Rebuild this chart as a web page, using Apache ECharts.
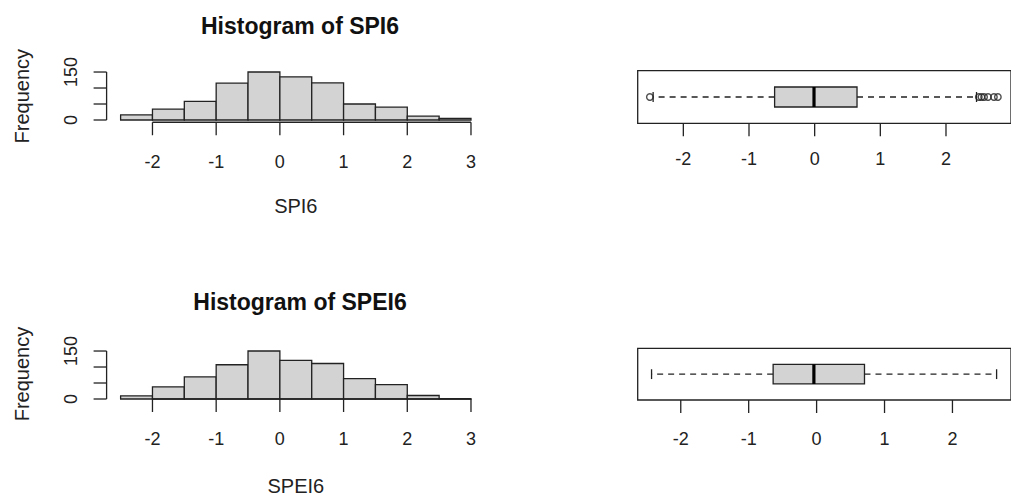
<!DOCTYPE html>
<html><head><meta charset="utf-8">
<script src="https://cdn.jsdelivr.net/npm/echarts@6/dist/echarts.min.js"></script>
<style>html,body{margin:0;padding:0;background:#fff}#c{width:1011px;height:499px}</style>
</head><body><div id="c"></div>
<script>
// ---- data ----
const binEdges = [-2.5, -2, -1.5, -1, -0.5, 0, 0.5, 1, 1.5, 2, 2.5, 3];
const spi6Counts = [16, 34, 58, 115, 150, 135, 116, 50, 40, 12, 5];
const spei6Counts = [10, 38, 69, 107, 150, 121, 111, 64, 45, 11, 1];
const histXTicks = [-2, -1, 0, 1, 2, 3];
const histYTicks = [0, 50, 100, 150];
const histYLabels = [0, 150];
const boxXTicks = [-2, -1, 0, 1, 2];
// lower whisker, Q1, median, Q3, upper whisker
const spi6Box = [-2.46, -0.61, -0.01, 0.645, 2.465];
const spi6Outliers = [-2.51, 2.50, 2.54, 2.58, 2.64, 2.73, 2.79];
const spei6Box = [-2.43, -0.64, -0.04, 0.705, 2.65];
const spei6Outliers = [];
const titles = ['Histogram of SPI6', 'Histogram of SPEI6'];
const varNames = ['SPI6', 'SPEI6'];

// ---- style ----
const FONT = 'Liberation Sans, Arial, sans-serif';
const INK = '#222';
const FILL = '#d3d3d3';
const LW = 1.3;
const BOX_HALF = 0.19;
const TICK_LEN = 13;

function histData(counts) {
  return counts.map((c, i) => [binEdges[i], binEdges[i + 1], c]);
}
function histRender(params, api) {
  const p0 = api.coord([api.value(0), api.value(2)]);
  const p1 = api.coord([api.value(1), 0]);
  return {
    type: 'rect',
    shape: { x: p0[0], y: p0[1], width: p1[0] - p0[0], height: p1[1] - p0[1] },
    style: { fill: FILL, stroke: INK, lineWidth: LW }
  };
}
function boxRender(params, api) {
  const y = api.value(5);
  const lo = api.coord([api.value(0), y]);
  const q1 = api.coord([api.value(1), y]);
  const md = api.coord([api.value(2), y]);
  const q3 = api.coord([api.value(3), y]);
  const hi = api.coord([api.value(4), y]);
  const cy = lo[1];
  const hh = params.coordSys.height * BOX_HALF;
  const ch = hh / 2;
  const dash = { stroke: INK, lineWidth: LW, lineDash: [6, 5] };
  const solid = { stroke: INK, lineWidth: LW };
  return {
    type: 'group',
    children: [
      { type: 'line', shape: { x1: q1[0], y1: cy, x2: lo[0], y2: cy }, style: dash },
      { type: 'line', shape: { x1: q3[0], y1: cy, x2: hi[0], y2: cy }, style: dash },
      { type: 'line', shape: { x1: lo[0], y1: cy - ch, x2: lo[0], y2: cy + ch }, style: solid },
      { type: 'line', shape: { x1: hi[0], y1: cy - ch, x2: hi[0], y2: cy + ch }, style: solid },
      { type: 'rect', shape: { x: q1[0], y: cy - hh, width: q3[0] - q1[0], height: 2 * hh },
        style: { fill: FILL, stroke: INK, lineWidth: LW } },
      { type: 'line', shape: { x1: md[0], y1: cy - hh, x2: md[0], y2: cy + hh },
        style: { stroke: '#000', lineWidth: 3.2 } }
    ]
  };
}
// tick marks drawn through the axis scale (x ticks below the grid, y ticks left of it)
function xTickRender(params, api) {
  const cs = params.coordSys;
  const px = api.coord([api.value(0), api.value(1)])[0];
  const y0 = cs.y + cs.height;
  return { type: 'line', shape: { x1: px, y1: y0, x2: px, y2: y0 + TICK_LEN },
    style: { stroke: INK, lineWidth: LW } };
}
function yTickRender(params, api) {
  const cs = params.coordSys;
  const py = api.coord([api.value(0), api.value(1)])[1];
  return { type: 'line', shape: { x1: cs.x, y1: py, x2: cs.x - TICK_LEN, y2: py },
    style: { stroke: INK, lineWidth: LW } };
}

const histGrids = [
  { left: 106.6, top: 70.1, width: 378.4, height: 52.14, yMin: -7, nameGap: 74 },
  { left: 106.6, top: 349.1, width: 378.4, height: 49.9, yMin: 0, nameGap: 77 }
];
const HIST_XMIN = -2.72, HIST_XMAX = 3.22;
const boxGrids = [
  { left: 637.7, top: 70.7, width: 380.3, height: 52.6, xMin: -2.695, xMax: 2.99, margin: 27 },
  { left: 637.7, top: 348.3, width: 380.3, height: 51.7, xMin: -2.634, xMax: 2.862, margin: 29.5 }
];

const labelStyle = { color: INK, fontFamily: FONT, fontSize: 18 };
const grid = [], xAxis = [], yAxis = [], series = [];

function tickSeries(gi, xVals, yVals, xFixed, yFixed) {
  if (xVals) series.push({
    type: 'custom', xAxisIndex: gi, yAxisIndex: gi, renderItem: xTickRender, clip: false, silent: true,
    data: xVals.map(v => [v, yFixed]), encode: { x: 0, y: 1 }
  });
  if (yVals) series.push({
    type: 'custom', xAxisIndex: gi, yAxisIndex: gi, renderItem: yTickRender, clip: false, silent: true,
    data: yVals.map(v => [xFixed, v]), encode: { x: 0, y: 1 }
  });
}

histGrids.forEach((g, k) => {
  grid.push({ left: g.left, top: g.top, width: g.width, height: g.height });
  const gi = grid.length - 1;
  xAxis.push({
    gridIndex: gi, type: 'value', min: HIST_XMIN, max: HIST_XMAX,
    axisLine: { show: false }, axisTick: { show: false }, splitLine: { show: false },
    axisLabel: Object.assign({ customValues: histXTicks, margin: 30.5 }, labelStyle),
    name: varNames[k], nameLocation: 'middle', nameGap: g.nameGap,
    nameTextStyle: { color: INK, fontFamily: FONT, fontSize: 20 }
  });
  yAxis.push({
    gridIndex: gi, type: 'value', min: g.yMin, max: 156,
    axisLine: { show: false }, axisTick: { show: false }, splitLine: { show: false },
    axisLabel: Object.assign({ customValues: histYLabels, margin: 26.5, rotate: 90 }, labelStyle),
    name: 'Frequency', nameLocation: 'middle', nameGap: 75,
    nameTextStyle: { color: INK, fontFamily: FONT, fontSize: 20 }
  });
  series.push({
    type: 'custom', xAxisIndex: gi, yAxisIndex: gi, renderItem: histRender,
    data: histData(k === 0 ? spi6Counts : spei6Counts), encode: { x: [0, 1], y: 2 }, clip: false
  });
  series.push({
    type: 'line', xAxisIndex: gi, yAxisIndex: gi, symbol: 'none', clip: false, silent: true,
    lineStyle: { color: INK, width: LW },
    data: [[histXTicks[0], g.yMin], [histXTicks[histXTicks.length - 1], g.yMin]]
  });
  series.push({
    type: 'line', xAxisIndex: gi, yAxisIndex: gi, symbol: 'none', clip: false, silent: true,
    lineStyle: { color: INK, width: LW },
    data: [[HIST_XMIN, histYTicks[0]], [HIST_XMIN, histYTicks[histYTicks.length - 1]]]
  });
  tickSeries(gi, histXTicks, histYTicks, HIST_XMIN, g.yMin);
});

boxGrids.forEach((g, k) => {
  grid.push({ left: g.left, top: g.top, width: g.width, height: g.height, show: true,
    borderColor: INK, borderWidth: LW, backgroundColor: 'transparent' });
  const gi = grid.length - 1;
  xAxis.push({
    gridIndex: gi, type: 'value', min: g.xMin, max: g.xMax,
    axisLine: { show: false }, axisTick: { show: false }, splitLine: { show: false },
    axisLabel: Object.assign({ customValues: boxXTicks, margin: g.margin }, labelStyle)
  });
  yAxis.push({ gridIndex: gi, type: 'value', min: 0, max: 1, show: false });
  const stats = k === 0 ? spi6Box : spei6Box;
  const outs = k === 0 ? spi6Outliers : spei6Outliers;
  series.push({
    type: 'custom', xAxisIndex: gi, yAxisIndex: gi, renderItem: boxRender,
    data: [stats.concat([0.5])], encode: { x: [0, 1, 2, 3, 4], y: 5 }, clip: false
  });
  series.push({
    type: 'scatter', xAxisIndex: gi, yAxisIndex: gi, symbol: 'circle', symbolSize: 6.5, silent: true,
    itemStyle: { color: 'transparent', borderColor: INK, borderWidth: 1.4 },
    data: outs.map(v => [v, 0.5]), z: 3
  });
  tickSeries(gi, boxXTicks, null, 0, 0);
});

const option = {
  animation: false,
  backgroundColor: '#fff',
  title: [
    { text: titles[0], left: 295, top: 9, textAlign: 'center',
      textStyle: { fontFamily: FONT, fontSize: 23, fontWeight: 'bold', color: '#111' } },
    { text: titles[1], left: 295, top: 285.5, textAlign: 'center',
      textStyle: { fontFamily: FONT, fontSize: 23, fontWeight: 'bold', color: '#111' } }
  ],
  grid, xAxis, yAxis, series
};
const chart = echarts.init(document.getElementById('c'), null, { renderer: 'svg' });
chart.setOption(option);
</script>
</body></html>
